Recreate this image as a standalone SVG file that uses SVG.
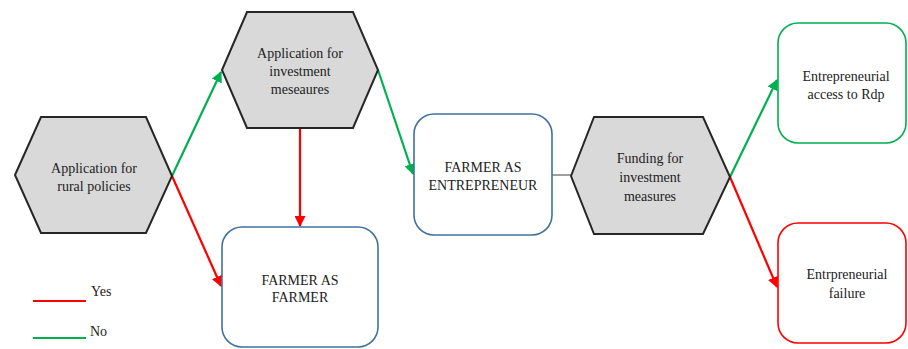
<svg xmlns="http://www.w3.org/2000/svg" width="908" height="349" viewBox="0 0 908 349">
<defs>
<style>
.hex{fill:#D9D9D9;stroke:#262626;stroke-width:2}
.box{fill:#FFFFFF;stroke-width:1.6}
.t{font-size:14px;fill:#222;text-anchor:middle}
.lg{font-size:14px;fill:#222}
.g{stroke:#00B050;stroke-width:2.2;fill:none}
.r{stroke:#FF0000;stroke-width:2.2;fill:none}
</style>
<marker id="ag" viewBox="0 0 10 10" refX="9" refY="5" markerWidth="5" markerHeight="5" orient="auto"><path d="M0,0 L10,5 L0,10 z" fill="#00B050"/></marker>
<marker id="ar" viewBox="0 0 10 10" refX="9" refY="5" markerWidth="5" markerHeight="5" orient="auto"><path d="M0,0 L10,5 L0,10 z" fill="#FF0000"/></marker>
</defs>
<rect width="908" height="349" fill="#FFFFFF"/>

<g id="connectors">
<line class="g" x1="172" y1="176" x2="221" y2="72" marker-end="url(#ag)"/>
<line class="r" x1="172" y1="176" x2="221" y2="286" marker-end="url(#ar)"/>
<line class="r" x1="300" y1="128" x2="300" y2="226" marker-end="url(#ar)"/>
<line class="g" x1="378" y1="70" x2="413" y2="174" marker-end="url(#ag)"/>
<line x1="552" y1="175" x2="571" y2="175" stroke="#7F7F7F" stroke-width="1.5"/>
<line class="g" x1="730" y1="177" x2="777" y2="80" marker-end="url(#ag)"/>
<line class="r" x1="730" y1="177" x2="777" y2="287" marker-end="url(#ar)"/>
</g>

<g font-family="Liberation Serif, Times New Roman, serif">
<g id="hex-rural">
<polygon class="hex" points="15,175 41,117 146,117 172,176 146,233 41,233"/>
<text class="t" x="94" y="173">Application for</text>
<text class="t" x="94" y="191">rural policies</text>
</g>

<g id="hex-investment">
<polygon class="hex" points="222,70 247,12 353,12 378,70 353,128 247,128"/>
<text class="t" x="300" y="58">Application for</text>
<text class="t" x="300" y="76">investment</text>
<text class="t" x="300" y="94">meseaures</text>
</g>

<g id="box-farmer">
<rect class="box" x="222" y="227" width="156" height="120" rx="20" stroke="#41719C"/>
<text class="t" x="300" y="285">FARMER AS</text>
<text class="t" x="300" y="302">FARMER</text>
</g>

<g id="box-entrepreneur">
<rect class="box" x="414" y="114" width="138" height="121" rx="20" stroke="#41719C"/>
<text class="t" x="483" y="172">FARMER AS</text>
<text class="t" x="483" y="190">ENTREPRENEUR</text>
</g>

<g id="hex-funding">
<polygon class="hex" points="571,176 594,117 703,117 730,177 703,234 594,234"/>
<text class="t" x="650" y="163">Funding for</text>
<text class="t" x="650" y="182">investment</text>
<text class="t" x="650" y="201">measures</text>
</g>

<g id="box-access">
<rect class="box" x="778" y="23" width="128" height="120" rx="20" stroke="#00B050"/>
<text class="t" x="846" y="81">Entrepreneurial</text>
<text class="t" x="846" y="99">access to Rdp</text>
</g>

<g id="box-failure">
<rect class="box" x="778" y="223" width="128" height="120" rx="20" stroke="#FF0000"/>
<text class="t" x="847" y="279">Entrpreneurial</text>
<text class="t" x="847" y="298">failure</text>
</g>

<g id="legend">
<line x1="33" y1="301" x2="86" y2="301" stroke="#FF0000" stroke-width="2"/>
<text class="lg" x="91" y="296">Yes</text>
<line x1="33" y1="338" x2="86" y2="338" stroke="#00B050" stroke-width="2"/>
<text class="lg" x="90" y="336">No</text>
</g>
</g>
</svg>
